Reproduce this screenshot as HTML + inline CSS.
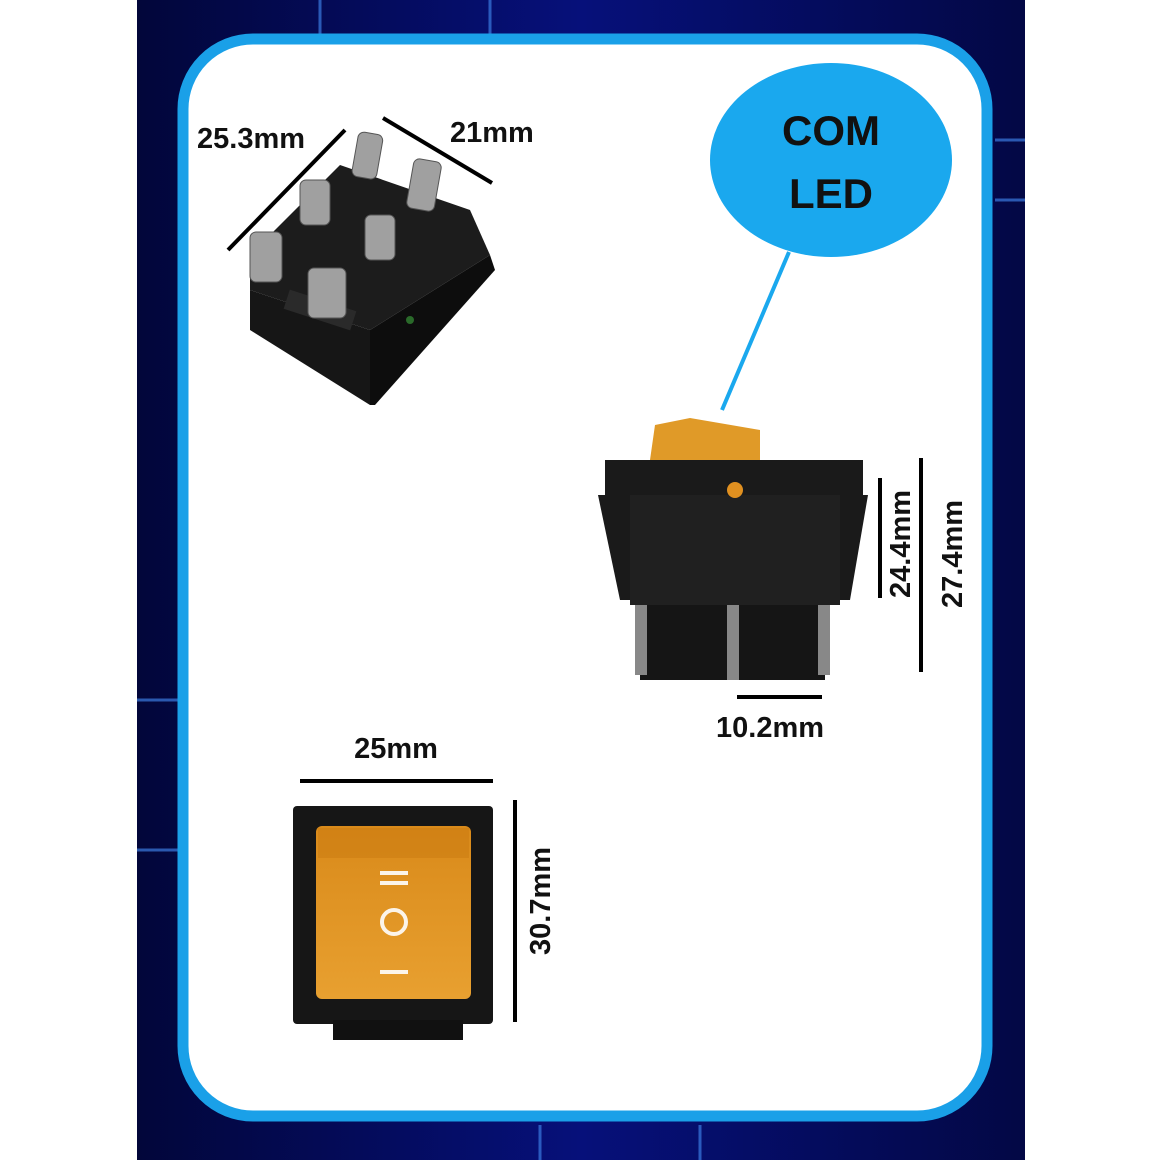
<!DOCTYPE html>
<html><head><meta charset="utf-8"><style>
html,body{margin:0;padding:0;background:#fff;}
svg{display:block}
text{font-family:"Liberation Sans",sans-serif;font-weight:bold;fill:#111}
</style></head><body>
<svg width="1160" height="1160" viewBox="0 0 1160 1160" xmlns="http://www.w3.org/2000/svg">
<defs>
<linearGradient id="bg" x1="0" y1="0" x2="1" y2="0">
<stop offset="0" stop-color="#02063a"/><stop offset="0.5" stop-color="#06107a"/><stop offset="1" stop-color="#030845"/>
</linearGradient>
<linearGradient id="amber" x1="0" y1="0" x2="0" y2="1">
<stop offset="0" stop-color="#d98a1a"/><stop offset="1" stop-color="#e8a030"/>
</linearGradient>
</defs>
<rect x="137" y="0" width="888" height="1160" fill="url(#bg)"/>
<g stroke="#3b7be0" stroke-width="3" opacity="0.7">
<line x1="320" y1="0" x2="320" y2="35"/><line x1="490" y1="0" x2="490" y2="35"/>
<line x1="137" y1="700" x2="178" y2="700"/><line x1="137" y1="850" x2="178" y2="850"/>
<line x1="995" y1="140" x2="1025" y2="140"/><line x1="995" y1="200" x2="1025" y2="200"/>
<line x1="540" y1="1125" x2="540" y2="1160"/><line x1="700" y1="1125" x2="700" y2="1160"/>
</g>
<rect x="183" y="39" width="804" height="1077" rx="70" fill="#fff" stroke="#1aa0e8" stroke-width="11"/>

<!-- top-left switch -->
<g>
<polygon points="250,255 340,165 470,210 490,255 370,330 250,290" fill="#1c1c1c"/>
<polygon points="250,290 370,330 370,405 250,330" fill="#161616"/>
<polygon points="370,330 490,255 495,270 375,405 370,405" fill="#0d0d0d"/>
<rect x="285" y="300" width="70" height="20" fill="#2a2a2a" transform="rotate(18 320 310)"/>
<circle cx="410" cy="320" r="4" fill="#2a6a2a"/>
<g fill="#a0a0a0" stroke="#555">
<rect x="355" y="133" width="25" height="45" rx="6" transform="rotate(10 367 155)"/>
<rect x="410" y="160" width="28" height="50" rx="6" transform="rotate(10 424 185)"/>
<rect x="300" y="180" width="30" height="45" rx="6"/>
<rect x="365" y="215" width="30" height="45" rx="6"/>
<rect x="250" y="232" width="32" height="50" rx="6"/>
<rect x="308" y="268" width="38" height="50" rx="6"/>
</g>
</g>
<line x1="228" y1="250" x2="345" y2="130" stroke="#000" stroke-width="4"/>
<line x1="383" y1="118" x2="492" y2="183" stroke="#000" stroke-width="4"/>
<text x="197" y="148" font-size="29">25.3mm</text>
<text x="450" y="142" font-size="29">21mm</text>

<!-- COM LED bubble -->
<ellipse cx="831" cy="160" rx="121" ry="97" fill="#1aa8ee"/>
<text x="831" y="145" font-size="42" text-anchor="middle">COM</text>
<text x="831" y="208" font-size="42" text-anchor="middle">LED</text>
<line x1="789" y1="252" x2="722" y2="410" stroke="#1aa8ee" stroke-width="4"/>

<!-- side switch -->
<polygon points="655,425 690,418 760,430 760,460 650,460" fill="#e09a28"/>
<rect x="605" y="460" width="258" height="36" fill="#1a1a1a"/>
<polygon points="598,495 630,495 640,600 620,600" fill="#1a1a1a"/>
<polygon points="868,495 840,495 830,600 850,600" fill="#1a1a1a"/>
<rect x="630" y="495" width="210" height="110" fill="#202020"/>
<circle cx="735" cy="490" r="8" fill="#e09020"/>
<rect x="640" y="605" width="185" height="75" fill="#151515"/>
<rect x="635" y="605" width="12" height="70" fill="#888"/>
<rect x="727" y="605" width="12" height="75" fill="#888"/>
<rect x="818" y="605" width="12" height="70" fill="#888"/>
<line x1="921" y1="458" x2="921" y2="672" stroke="#000" stroke-width="4"/>
<line x1="880" y1="478" x2="880" y2="598" stroke="#000" stroke-width="4"/>
<text transform="translate(910 598) rotate(-90)" font-size="29">24.4mm</text>
<text transform="translate(962 608) rotate(-90)" font-size="29">27.4mm</text>
<line x1="737" y1="697" x2="822" y2="697" stroke="#000" stroke-width="4"/>
<text x="716" y="737" font-size="29">10.2mm</text>

<!-- front switch -->
<rect x="293" y="806" width="200" height="218" rx="4" fill="#161616"/>
<rect x="333" y="1020" width="130" height="20" fill="#111"/>
<rect x="316" y="826" width="155" height="173" rx="6" fill="url(#amber)"/>
<rect x="318" y="828" width="151" height="30" fill="#c97a10" opacity="0.5"/>
<g stroke="#fff" stroke-width="4" fill="none" opacity="0.9">
<line x1="380" y1="873" x2="408" y2="873"/><line x1="380" y1="883" x2="408" y2="883"/>
<circle cx="394" cy="922" r="12"/>
<line x1="380" y1="972" x2="408" y2="972"/>
</g>
<line x1="300" y1="781" x2="493" y2="781" stroke="#000" stroke-width="4"/>
<text x="396" y="758" font-size="29" text-anchor="middle">25mm</text>
<line x1="515" y1="800" x2="515" y2="1022" stroke="#000" stroke-width="4"/>
<text transform="translate(550 955) rotate(-90)" font-size="29">30.7mm</text>
</svg>
</body></html>
